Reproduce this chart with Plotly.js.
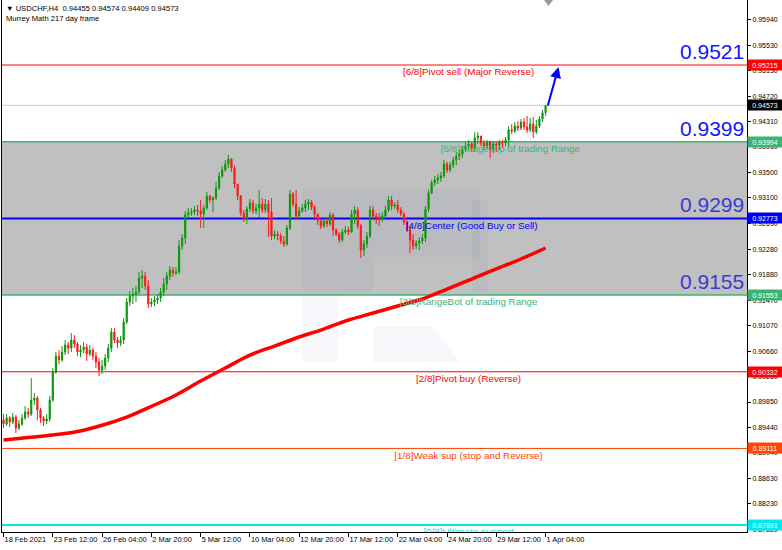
<!DOCTYPE html>
<html>
<head>
<meta charset="utf-8">
<script src="https://cdn.plot.ly/plotly-3.0.1.min.js"></script>
<style>
html,body{margin:0;padding:0;background:#fff;}
#chart{width:782px;height:550px;}
</style>
</head>
<body>
<div id="chart"></div>
<script>
// ---------------- DATA ----------------
const symbolName = 'USDCHF,H4';
const indicatorName = 'Murrey Math 217 day frame';

const xTickIndex = [0, 16, 32, 48, 64, 80, 96, 112, 128, 144, 160, 176];
const xTickLabels = ['18 Feb 2021', '23 Feb 12:00', '26 Feb 04:00', '2 Mar 20:00', '5 Mar 12:00',
  '10 Mar 04:00', '12 Mar 20:00', '17 Mar 12:00', '22 Mar 04:00', '24 Mar 20:00', '29 Mar 12:00', '1 Apr 04:00'];

const openPrices = [0.89564,
0.89500,0.89596,0.89532,0.89611,0.89437,0.89500,0.89596,0.89691,0.89659,0.89882,
0.89914,0.89723,0.89596,0.89548,0.89580,0.89882,0.90328,0.90582,0.90519,0.90646,
0.90757,0.90709,0.90837,0.90773,0.90646,0.90678,0.90725,0.90614,0.90678,0.90582,
0.90487,0.90360,0.90423,0.90551,0.90709,0.90964,0.90837,0.90789,0.90837,0.91124,
0.91442,0.91538,0.91570,0.91601,0.91824,0.91856,0.91697,0.91410,0.91442,0.91474,
0.91506,0.91601,0.91729,0.91856,0.91952,0.91904,0.91920,0.92334,0.92461,0.92827,
0.92859,0.92875,0.92907,0.92891,0.92843,0.92939,0.93130,0.93066,0.93098,0.93257,
0.93448,0.93544,0.93639,0.93719,0.93576,0.93320,0.93130,0.92859,0.92764,0.92923,
0.93018,0.92891,0.92939,0.93002,0.92907,0.93002,0.92875,0.92493,0.92524,0.92493,
0.92413,0.92366,0.92620,0.93161,0.93002,0.92811,0.92891,0.92939,0.93002,0.93034,
0.92954,0.92843,0.92732,0.92652,0.92732,0.92684,0.92827,0.92588,0.92524,0.92429,
0.92556,0.92588,0.92556,0.92843,0.92907,0.92652,0.92270,0.92366,0.92493,0.92907,
0.92811,0.92795,0.92764,0.92811,0.92907,0.93066,0.92970,0.92986,0.92907,0.92843,
0.92716,0.92604,0.92429,0.92334,0.92382,0.92413,0.92461,0.92923,0.93177,0.93337,
0.93384,0.93416,0.93448,0.93639,0.93544,0.93623,0.93703,0.93766,0.93798,0.93862,
0.93926,0.93957,0.93894,0.94053,0.94085,0.93973,0.93926,0.93989,0.93878,0.93957,
0.93941,0.93989,0.93973,0.94021,0.94180,0.94164,0.94244,0.94212,0.94308,0.94228,
0.94180,0.94276,0.94148,0.94244,0.94355,0.94455];

const highPrices = [
0.89659,0.89659,0.89627,0.89675,0.89643,0.89564,0.89659,0.89787,0.89755,0.90232,
0.89993,0.89946,0.89755,0.89627,0.89659,0.89946,0.90391,0.90646,0.90678,0.90741,
0.90837,0.90805,0.90948,0.90916,0.90805,0.90757,0.90805,0.90773,0.90757,0.90709,
0.90646,0.90551,0.90519,0.90614,0.90773,0.91028,0.91028,0.90885,0.90900,0.91188,
0.91506,0.91617,0.91665,0.91697,0.91920,0.91952,0.91920,0.91792,0.91506,0.91538,
0.91570,0.91665,0.91824,0.91920,0.92015,0.91999,0.91999,0.92429,0.92524,0.92891,
0.92939,0.92939,0.92970,0.92986,0.93066,0.92986,0.93193,0.93145,0.93130,0.93352,
0.93512,0.93607,0.93703,0.93782,0.93735,0.93623,0.93320,0.93145,0.92907,0.92970,
0.93082,0.93066,0.93002,0.93225,0.93098,0.93082,0.93066,0.93098,0.92588,0.92572,
0.92541,0.92493,0.92668,0.93225,0.93193,0.93225,0.92954,0.93002,0.93066,0.93082,
0.93066,0.92986,0.92843,0.92764,0.92779,0.92779,0.92875,0.92859,0.92620,0.92556,
0.92604,0.92652,0.92636,0.92907,0.92970,0.92954,0.92684,0.92429,0.92556,0.92970,
0.92970,0.92859,0.92859,0.92875,0.92970,0.93130,0.93130,0.93034,0.93066,0.92954,
0.92875,0.92748,0.92652,0.92525,0.92429,0.92477,0.92525,0.92970,0.93225,0.93384,
0.93448,0.93480,0.93512,0.93703,0.93671,0.93671,0.93750,0.93830,0.93862,0.93926,
0.93989,0.94021,0.93989,0.94148,0.94148,0.94085,0.94021,0.94021,0.94005,0.94005,
0.93989,0.94021,0.94021,0.94069,0.94244,0.94276,0.94308,0.94324,0.94355,0.94371,
0.94403,0.94371,0.94387,0.94340,0.94403,0.94499,0.94574];

const lowPrices = [
0.89437,0.89468,0.89453,0.89500,0.89356,0.89404,0.89468,0.89564,0.89596,0.89627,
0.89802,0.89564,0.89516,0.89468,0.89500,0.89532,0.89850,0.90296,0.90455,0.90487,
0.90598,0.90614,0.90646,0.90709,0.90582,0.90566,0.90630,0.90503,0.90582,0.90519,
0.90391,0.90264,0.90296,0.90360,0.90487,0.90646,0.90789,0.90709,0.90741,0.90773,
0.91092,0.91379,0.91410,0.91442,0.91570,0.91665,0.91633,0.91347,0.91363,0.91379,
0.91410,0.91442,0.91538,0.91633,0.91792,0.91840,0.91872,0.91888,0.92270,0.92366,
0.92779,0.92811,0.92827,0.92811,0.92620,0.92620,0.92907,0.93018,0.92875,0.93066,
0.93225,0.93416,0.93512,0.93576,0.93512,0.93257,0.93066,0.92811,0.92716,0.92684,
0.92875,0.92843,0.92843,0.92779,0.92859,0.92859,0.92477,0.92429,0.92445,0.92429,
0.92366,0.92318,0.92334,0.92588,0.92954,0.92764,0.92764,0.92859,0.92875,0.92907,
0.92907,0.92795,0.92668,0.92604,0.92620,0.92636,0.92652,0.92493,0.92493,0.92382,
0.92397,0.92524,0.92509,0.92541,0.92684,0.92604,0.92143,0.92175,0.92302,0.92461,
0.92764,0.92684,0.92652,0.92716,0.92748,0.92875,0.92907,0.92923,0.92859,0.92811,
0.92668,0.92556,0.92222,0.92270,0.92286,0.92270,0.92366,0.92397,0.92875,0.93161,
0.93289,0.93320,0.93352,0.93416,0.93496,0.93512,0.93576,0.93623,0.93703,0.93735,
0.93830,0.93862,0.93830,0.93830,0.93957,0.93926,0.93862,0.93878,0.93735,0.93814,
0.93830,0.93862,0.93894,0.93926,0.93910,0.94117,0.94133,0.94164,0.94180,0.94180,
0.94133,0.94148,0.94053,0.94117,0.94212,0.94308,0.94409];

const closePrices = [
0.89500,0.89596,0.89532,0.89611,0.89437,0.89500,0.89596,0.89691,0.89659,0.89882,
0.89914,0.89723,0.89596,0.89548,0.89580,0.89882,0.90328,0.90582,0.90519,0.90646,
0.90757,0.90709,0.90837,0.90773,0.90646,0.90678,0.90725,0.90614,0.90678,0.90582,
0.90487,0.90360,0.90423,0.90551,0.90709,0.90964,0.90837,0.90789,0.90837,0.91124,
0.91442,0.91538,0.91570,0.91601,0.91824,0.91856,0.91697,0.91410,0.91442,0.91474,
0.91506,0.91601,0.91729,0.91856,0.91952,0.91904,0.91920,0.92334,0.92461,0.92827,
0.92859,0.92875,0.92907,0.92891,0.92843,0.92939,0.93130,0.93066,0.93098,0.93257,
0.93448,0.93544,0.93639,0.93719,0.93576,0.93320,0.93130,0.92859,0.92764,0.92923,
0.93018,0.92891,0.92939,0.93002,0.92907,0.93002,0.92875,0.92493,0.92524,0.92493,
0.92413,0.92366,0.92620,0.93161,0.93002,0.92811,0.92891,0.92939,0.93002,0.93034,
0.92954,0.92843,0.92732,0.92652,0.92732,0.92684,0.92827,0.92588,0.92524,0.92429,
0.92556,0.92588,0.92556,0.92843,0.92907,0.92652,0.92270,0.92366,0.92493,0.92907,
0.92811,0.92795,0.92764,0.92811,0.92907,0.93066,0.92970,0.92986,0.92907,0.92843,
0.92716,0.92604,0.92429,0.92334,0.92382,0.92413,0.92461,0.92923,0.93177,0.93337,
0.93384,0.93416,0.93448,0.93639,0.93544,0.93623,0.93703,0.93766,0.93798,0.93862,
0.93926,0.93957,0.93894,0.94053,0.94085,0.93973,0.93926,0.93989,0.93878,0.93957,
0.93941,0.93989,0.93973,0.94021,0.94180,0.94164,0.94244,0.94212,0.94308,0.94228,
0.94180,0.94276,0.94148,0.94244,0.94355,0.94455,0.94573];

// 217-period moving average, read every 8 bars
const ma217Index = [0,8,16,24,32,40,48,56,64,72,80,88,96,104,112,120,128,136,144,152,160,168,176];
const ma217Values = [0.89245,0.89285,0.89325,0.89380,0.89480,0.89610,0.89780,0.89962,0.90184,0.90391,
  0.90598,0.90741,0.90885,0.91012,0.91156,0.91267,0.91379,0.91490,0.91649,0.91808,0.91968,0.92127,0.92302];

const murreyLevels = [0.95215, 0.93994, 0.92773, 0.91553, 0.90332, 0.89111, 0.87891];
const murreyNames = ['[6/8]Pivot sell (Major Reverse)', '[5/8]RangeTop of trading Range', '[4/8]Center (Good Buy or Sell)',
  '[3/8]RangeBot of trading Range', '[2/8]Pivot buy (Reverse)', '[1/8]Weak sup (stop and Reverse)', '[0/8]Ultimate support'];
const bigLevelLabels = ['0.9521', '0.9399', '0.9299', '0.9155'];
const bigLevelValues = [0.95215, 0.93994, 0.92773, 0.91553];
const currentPrice = 0.94573;
const tradingRangeTop = 0.93994;
const tradingRangeBottom = 0.91553;

const yTickVals = [0.95940,0.95530,0.95130,0.94720,0.94310,0.93910,0.93500,0.93100,0.92690,0.92280,
  0.91880,0.91470,0.91070,0.90660,0.90250,0.89850,0.89440,0.89040,0.88630,0.88230,0.87820];

// ---------------- STYLE ----------------
const FONT = 'Liberation Sans, Arial, sans-serif';
const levelColors = ['#ff0000', '#3cb371', '#0000ff', '#3cb371', '#ff0000', '#ff4500', '#00e5ee'];
const levelWidths = [1, 1.5, 2, 1.5, 1, 1, 2];
const tagColors = ['#ff0000', '#3cb371', '#0000ff', '#3cb371', '#ff0000', '#ff4500', '#00e8f0'];

const barIndex = closePrices.map((_, i) => i);
const nBars = closePrices.length;

const traces = [];

traces.push({
  type: 'candlestick',
  x: barIndex,
  open: openPrices, high: highPrices, low: lowPrices, close: closePrices,
  increasing: {line: {color: '#0b990b', width: 1}, fillcolor: '#0b990b'},
  decreasing: {line: {color: '#ff1a1a', width: 1}, fillcolor: '#ff1a1a'},
  whiskerwidth: 0,
  hoverinfo: 'skip',
  showlegend: false
});

traces.push({
  type: 'scatter', mode: 'lines',
  x: ma217Index, y: ma217Values,
  line: {color: '#ff0000', width: 3.5, shape: 'spline', smoothing: 1},
  hoverinfo: 'skip', showlegend: false
});

// level text labels (drawn in the plot, clipped to the plot area)
const labelX = [151, 142, 152, 151, 151, 151, 151];
const labelPos = ['bottom center', 'bottom right', 'bottom center', 'bottom center', 'bottom center', 'bottom center', 'bottom center'];
const labelDrop = 0.00045; // ~3px gap below each line
traces.push({
  type: 'scatter', mode: 'text',
  x: labelX, y: murreyLevels.map(v => v - labelDrop), text: murreyNames,
  textposition: labelPos,
  textfont: {family: FONT, size: 9.8, color: levelColors},
  cliponaxis: true, hoverinfo: 'skip', showlegend: false
});

const shapes = [];
// trading range band
shapes.push({type: 'rect', xref: 'paper', yref: 'y', x0: 0, x1: 1, y0: tradingRangeBottom, y1: tradingRangeTop,
  fillcolor: '#c0c0c0', line: {width: 0}, layer: 'below'});

// watermark (pixel -> paper helpers, styling only)
const PX = p => (p - 2) / 745;
const PY = p => 1 - p / 532;
const wm = 'rgba(60,90,150,0.05)';
function wrect(x0, y0, x1, y1) {
  shapes.push({type: 'rect', xref: 'paper', yref: 'paper', x0: PX(x0), x1: PX(x1), y0: PY(y1), y1: PY(y0),
    fillcolor: wm, line: {width: 0}, layer: 'below'});
}
wrect(303, 188, 338, 362);
wrect(338, 188, 480, 257);
wrect(338, 257, 373, 292);
wrect(472, 200, 488, 292);
shapes.push({type: 'path', xref: 'paper', yref: 'paper',
  path: `M ${PX(373)} ${PY(327)} L ${PX(433)} ${PY(327)} L ${PX(460)} ${PY(362)} L ${PX(373)} ${PY(362)} Z`,
  fillcolor: wm, line: {width: 0}, layer: 'below'});

// current price line
shapes.push({type: 'line', xref: 'paper', yref: 'y', x0: 0, x1: 1, y0: currentPrice, y1: currentPrice,
  line: {color: '#c8c8c8', width: 1}, layer: 'below'});
// murrey lines
murreyLevels.forEach((lv, k) => {
  shapes.push({type: 'line', xref: 'paper', yref: 'y', x0: 0, x1: 1, y0: lv, y1: lv,
    line: {color: levelColors[k], width: levelWidths[k]}, layer: 'below'});
});
// small chart-shift marker at the top
shapes.push({type: 'path', xref: 'paper', yref: 'paper',
  path: `M ${PX(544)} 1 L ${PX(553)} 1 L ${PX(548.5)} ${PY(6)} Z`,
  fillcolor: '#9a9a9a', line: {width: 0}, layer: 'above'});

const annotations = [];
// header
const last = nBars - 1;
annotations.push({xref: 'paper', yref: 'paper', x: PX(4), y: PY(2), xanchor: 'left', yanchor: 'top', showarrow: false,
  text: '\u25BC ' + symbolName + '  ' + [openPrices[last], highPrices[last], lowPrices[last], closePrices[last]].map(v => v.toFixed(5)).join(' '),
  font: {family: FONT, size: 7.6, color: '#000'}});
annotations.push({xref: 'paper', yref: 'paper', x: PX(4), y: PY(12), xanchor: 'left', yanchor: 'top', showarrow: false,
  text: indicatorName, font: {family: FONT, size: 7.6, color: '#000'}});

// big level numbers
const bigColors = ['#1515ff', '#1515ff', '#3d3ad0', '#3d3ad0'];
bigLevelLabels.forEach((t, k) => {
  annotations.push({xref: 'paper', yref: 'y', x: 1, y: bigLevelValues[k], xanchor: 'right', yanchor: 'bottom',
    xshift: -1, yshift: 0, showarrow: false, text: t,
    font: {family: FONT, size: 21, color: bigColors[k]}});
});

// price tags on the axis
const tagValues = murreyLevels.concat([currentPrice]);
const tagCols = tagColors.concat(['#000000']);
tagValues.forEach((v, k) => {
  annotations.push({xref: 'paper', yref: 'y', x: 1, y: v, xanchor: 'left', yanchor: 'middle', xshift: 0,
    showarrow: false, text: v.toFixed(5), bgcolor: tagCols[k], borderpad: 0.5, width: 33, height: 9, align: 'center',
    font: {family: FONT, size: 7, color: '#ffffff'}});
});

// blue forecast arrow
annotations.push({xref: 'x', yref: 'y', axref: 'x', ayref: 'y', x: 180.2, y: 0.95183, ax: 176.6, ay: 0.94547,
  text: '', showarrow: true, arrowhead: 2, arrowsize: 1.1, arrowwidth: 2, arrowcolor: '#0000ff'});

const layout = {
  width: 782, height: 550,
  margin: {l: 2, r: 35, t: 0, b: 18, pad: 0},
  paper_bgcolor: '#ffffff', plot_bgcolor: '#ffffff',
  showlegend: false, hovermode: false, dragmode: false,
  boxgap: 0.45,
  xaxis: {
    range: [-0.5, 241.4], showgrid: false, zeroline: false,
    rangeslider: {visible: false},
    showline: true, linecolor: '#000', linewidth: 1,
    ticks: 'outside', ticklen: 4, tickcolor: '#000', tickwidth: 1,
    tickvals: xTickIndex, ticktext: xTickLabels,
    tickangle: 0,
    ticklabelposition: 'outside right',
    tickfont: {family: FONT, size: 7.4, color: '#000'},
    fixedrange: true
  },
  yaxis: {
    side: 'right', range: [0.87781, 0.96250], showgrid: false, zeroline: false,
    showline: true, linecolor: '#000', linewidth: 1, mirror: true,
    ticks: 'outside', ticklen: 3, tickcolor: '#000',
    tickvals: yTickVals, ticktext: yTickVals.map(v => v.toFixed(5)),
    tickfont: {family: FONT, size: 7, color: '#000'},
    fixedrange: true
  },
  shapes: shapes,
  annotations: annotations
};

Plotly.newPlot('chart', traces, layout, {displayModeBar: false, staticPlot: true});
</script>
</body>
</html>
